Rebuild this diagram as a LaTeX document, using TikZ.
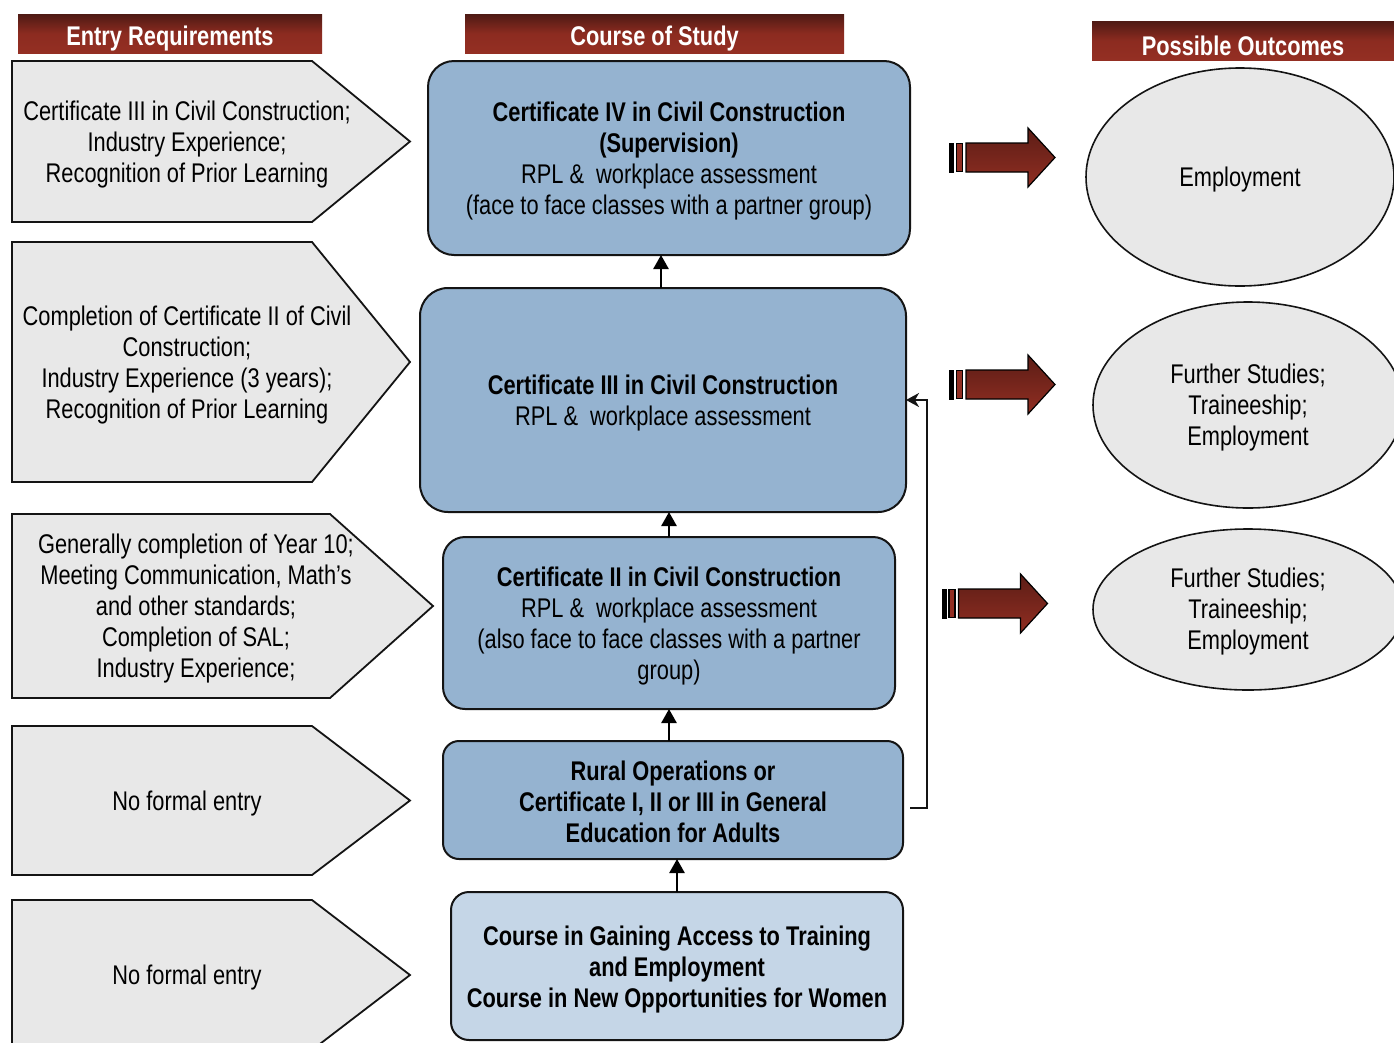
\documentclass[tikz,border=0pt]{standalone}
\usepackage{fontspec}
\setmainfont{Liberation Sans}[FakeStretch=0.808]
\usetikzlibrary{shapes.geometric,arrows.meta}
\definecolor{grayfill}{RGB}{232,232,232}
\definecolor{boxblue}{RGB}{149,179,208}
\definecolor{boxlight}{RGB}{197,214,231}
\definecolor{hdrtop}{RGB}{78,26,20}
\definecolor{hdrmid}{RGB}{140,43,32}
\definecolor{hdrbot}{RGB}{148,47,35}
\definecolor{arrtop}{RGB}{92,29,22}
\definecolor{arrbot}{RGB}{145,46,34}
\definecolor{edge}{RGB}{20,20,20}
\tikzset{
  txt/.style={font=\fontsize{27}{31}\selectfont, align=center, inner sep=0pt},
  hdrtxt/.style={text=white, inner sep=0pt, font=\bfseries\fontsize{27}{30}\selectfont},
  hdr/.style={rectangle, minimum height=39pt, inner sep=0pt,
    top color=hdrtop, bottom color=hdrbot, middle color=hdrmid},
  penta/.style={fill=grayfill, draw=edge, line width=1.8pt, line join=miter},
  course/.style={rectangle, draw=edge, line width=2pt, fill=boxblue, inner sep=0pt,
    outer sep=0pt},
  outc/.style={ellipse, draw=edge, line width=1.6pt, fill=grayfill, inner sep=0pt,
    outer sep=0pt},
  uparr/.style={line width=2.6pt, draw=black, -{Triangle[width=15pt,length=14pt]}},
  fb/.style={line width=1.6pt, draw=edge, -{Stealth[length=13pt,width=14pt,inset=4pt]}},
  blockarr/.style={draw=black, line width=1.2pt, top color=arrtop, bottom color=arrbot, line join=miter},
  barblack/.style={fill=black, draw=none},
  barred/.style={draw=black, line width=1.8pt, fill=arrbot}
}
\begin{document}
\begin{tikzpicture}[x=1pt,y=-1pt]
\useasboundingbox (0,0) rectangle (1394,1042);
\fill[white] (0,0) rectangle (1394,1042);

% headers
\node[hdr, minimum width=304pt] (h1) at (170,33.5) {};
\node[hdr, minimum width=379pt] (h2) at (654.5,33.5) {};
\node[hdr, minimum width=302pt] (h3) at (1243,40.5) {};
\node[hdrtxt] (ht1) at ([yshift=-5pt]h1.center) {Entry Requirements};
\node[hdrtxt] (ht2) at ([yshift=-5pt]h2.center) {Course of Study};
\node[hdrtxt] (ht3) at ([yshift=-5pt]h3.center) {Possible Outcomes};

% entry pentagons
\draw[penta] (12,61) -- (312,61) -- (410,141.5) -- (312,222) -- (12,222) -- cycle;
\draw[penta] (12,242) -- (312,242) -- (410,362) -- (312,482) -- (12,482) -- cycle;
\draw[penta] (12,514) -- (330,514) -- (433,606) -- (330,698) -- (12,698) -- cycle;
\draw[penta] (12,726) -- (312,726) -- (410,800.5) -- (312,875) -- (12,875) -- cycle;
\draw[penta] (12,900) -- (312,900) -- (410,975) -- (312,1050) -- (12,1050) -- cycle;

\node[txt] (e1) at (187,145) {Certificate III in Civil Construction;\\Industry Experience;\\Recognition of Prior Learning};
\node[txt] (e2) at (187,365) {Completion of Certificate II of Civil\\Construction;\\Industry Experience (3 years);\\Recognition of Prior Learning};
\node[txt] (e3) at (196,609) {Generally completion of Year 10;\\Meeting Communication, Math’s\\and other standards;\\Completion of SAL;\\Industry Experience;};
\node[txt] (e4) at (187,804) {No formal entry};
\node[txt] (e5) at (187,978) {No formal entry};

% course boxes
\node[course, rounded corners=26pt, minimum width=482pt, minimum height=194pt] (b1) at (669,158) {};
\node[course, rounded corners=28pt, minimum width=486pt, minimum height=224pt] (b2) at (663,400) {};
\node[course, rounded corners=22pt, minimum width=452pt, minimum height=172pt] (b3) at (669,623) {};
\node[course, rounded corners=16pt, minimum width=460pt, minimum height=118pt] (b4) at (673,800) {};
\node[course, fill=boxlight, rounded corners=18pt, minimum width=452pt, minimum height=148pt] (b5) at (677,966) {};

\node[txt] (t1) at ([yshift=-3pt]b1.center)
  {\textbf{Certificate IV in Civil Construction}\\\textbf{(Supervision)}\\RPL \&\ \ workplace assessment\\(face to face classes with a partner group)};
\node[txt] (t2) at ([yshift=-3pt]b2.center)
  {\textbf{Certificate III in Civil Construction}\\RPL \&\ \ workplace assessment};
\node[txt] (t3) at ([yshift=-3pt]b3.center)
  {\textbf{Certificate II in Civil Construction}\\RPL \&\ \ workplace assessment\\(also face to face classes with a partner\\group)};
\node[txt] (t4) at ([yshift=-2pt]b4.center)
  {\textbf{Rural Operations or}\\\textbf{Certificate I, II or III in General}\\\textbf{Education for Adults}};
\node[txt] (t5) at ([yshift=-4pt]b5.center)
  {\textbf{Course in Gaining Access to Training}\\\textbf{and Employment}\\\textbf{Course in New Opportunities for Women}};

% vertical arrows
\coordinate (x1) at (661,0);
\coordinate (x2) at (669,0);
\coordinate (x3) at (677,0);
\draw[uparr] (b2.north -| x1) -- (b1.south -| x1);
\draw[uparr] (b3.north -| x2) -- (b2.south -| x2);
\draw[uparr] (b4.north -| x2) -- (b3.south -| x2);
\draw[uparr] (b5.north -| x3) -- (b4.south -| x3);

% feedback connector
\coordinate (fbs) at (910,808);
\coordinate (fbt) at (927,400);
\draw[fb] (fbs) -| (fbt) -- (fbt -| b2.east);

% outcome ellipses
\node[outc, minimum width=308pt, minimum height=218pt] (o1) at (1240,177) {};
\node[outc, minimum width=310pt, minimum height=206pt] (o2) at (1248,405) {};
\node[outc, minimum width=310pt, minimum height=161pt] (o3) at (1248,609.5) {};
\node[txt] (u1) at ([yshift=-3pt]o1.center) {Employment};
\node[txt] (u2) at ([yshift=-3pt]o2.center) {Further Studies;\\Traineeship;\\Employment};
\node[txt] (u3) at ([yshift=-2.5pt]o3.center) {Further Studies;\\Traineeship;\\Employment};

% block arrows
\foreach \cy/\xs in {157.5/0, 384.5/0, 603.5/-7.5}{
  \begin{scope}[shift={(\xs,\cy)}]
    \fill[barblack] (949,-15) rectangle (954,15);
    \draw[barred] (956.5,-14) rectangle (962.5,14);
    \draw[blockarr] (966,-14.5) -- (1028,-14.5) -- (1028,-29.5) -- (1055,0) -- (1028,29.5) -- (1028,14.5) -- (966,14.5) -- cycle;
  \end{scope}
}
\end{tikzpicture}
\end{document}
